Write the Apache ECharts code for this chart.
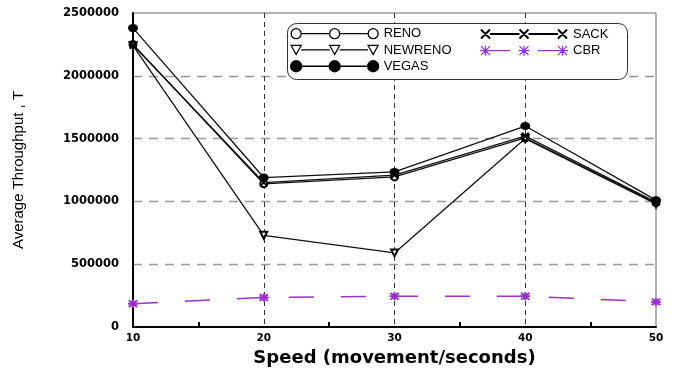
<!DOCTYPE html>
<html>
<head>
<meta charset="utf-8">
<script src="https://cdn.jsdelivr.net/npm/echarts@6/dist/echarts.min.js"></script>
<style>
html,body{margin:0;padding:0;background:#fff;}
#chart{width:675px;height:374px;}
</style>
</head>
<body>
<div id="chart"></div>
<script>
// ---- data ----
var speeds = [10, 20, 30, 40, 50];
var reno    = [2250000, 1140000, 1195000, 1505000, 990000];
var newreno = [2240000,  730000,  590000, 1500000, 980000];
var vegas   = [2380000, 1190000, 1235000, 1600000, 1010000];
var sack    = [2245000, 1150000, 1210000, 1520000, 995000];
var cbr     = [ 185000,  235000,  245000,  245000, 200000];
var seriesNames = ['RENO', 'NEWRENO', 'VEGAS', 'SACK', 'CBR'];
var xTitle = 'Speed (movement/seconds)';
var yTitle = 'Average Throughput , T';

var purple = '#9932CC';
function pairs(vals) { return speeds.map(function (s, i) { return [s, vals[i]]; }); }

var xPath = 'path://M0,0L10,10M10,0L0,10';
var starPath = 'path://M0,0L10,10M10,0L0,10M5,-1L5,11M-1,5L11,5';

// legend icon paths (88 x 12 box)
function circ(cx, r) { return 'M' + (cx - r) + ',6a' + r + ',' + r + ' 0 1,0 ' + (2 * r) + ',0a' + r + ',' + r + ' 0 1,0 ' + (-2 * r) + ',0'; }
function tri(cx) { return 'M' + (cx - 5) + ',1.5L' + (cx + 5) + ',1.5L' + cx + ',10.5Z'; }
function cross(cx) { return 'M' + (cx - 4.5) + ',1.5L' + (cx + 4.5) + ',10.5M' + (cx + 4.5) + ',1.5L' + (cx - 4.5) + ',10.5'; }
function star(cx) { return cross(cx) + 'M' + cx + ',1L' + cx + ',11M' + (cx - 5.5) + ',6L' + (cx + 5.5) + ',6'; }
var anchor = 'M0,0M88,12';
var pos = [5.5, 44, 82.5];
var iconReno = 'path://' + anchor + 'M10.5,6L39,6M49,6L77.5,6' + pos.map(function (c) { return circ(c, 5); }).join('');
var iconNew = 'path://' + anchor + 'M10.5,6L39,6M49,6L77.5,6' + pos.map(tri).join('');
var iconVeg = 'path://' + anchor + 'M10.5,6L39,6M49,6L77.5,6' + pos.map(function (c) { return circ(c, 5.5); }).join('');
var iconSack = 'path://' + anchor + 'M10,6L39.5,6M48.5,6L78,6' + pos.map(cross).join('');
var iconCbr = 'path://' + anchor + 'M11,6L30,6M58,6L77,6' + pos.map(star).join('');

var chart = echarts.init(document.getElementById('chart'), null, { renderer: 'canvas' });

var axisLabelFont = { fontFamily: 'DejaVu Sans', fontWeight: 'bold', color: '#000' };
var legendText = { fontFamily: 'Liberation Sans', fontSize: 13, color: '#000', lineHeight: 12 };

var option = {
  animation: false,
  backgroundColor: '#fff',
  grid: { left: 133, right: 19, top: 13, bottom: 47, show: true, borderColor: '#666', borderWidth: 1 },
  xAxis: {
    type: 'value', min: 10, max: 50, interval: 10,
    name: xTitle, nameLocation: 'middle', nameGap: 15,
    nameTextStyle: { fontFamily: 'DejaVu Sans', fontWeight: 'bold', fontSize: 18, color: '#000' },
    axisLine: { show: true, lineStyle: { color: '#000', width: 2 } },
    axisTick: { show: true, inside: true, length: 0 },
    minorTick: { show: true, splitNumber: 2, length: 5, lineStyle: { color: '#000', width: 2 } },
    axisLabel: Object.assign({ fontSize: 10.5, margin: 6 }, axisLabelFont),
    splitLine: { show: true, showMinLine: false, showMaxLine: false, lineStyle: { color: '#333', type: [5, 4], width: 1 } }
  },
  yAxis: {
    type: 'value', min: 0, max: 2500000, interval: 500000,
    name: yTitle, nameLocation: 'middle', nameGap: 107,
    nameTextStyle: { fontFamily: 'Liberation Sans', fontSize: 15, color: '#000' },
    axisLine: { show: true, lineStyle: { color: '#000', width: 2 } },
    axisTick: { show: false },
    axisLabel: Object.assign({ fontSize: 11.5, margin: 14, formatter: function (v) { return String(v); } }, axisLabelFont),
    splitLine: { show: true, showMinLine: false, showMaxLine: false, lineStyle: { color: '#999', type: [9, 7], width: 1.3 } }
  },
  legend: [
    {
      left: 290, top: 27, padding: 0, orient: 'vertical', itemWidth: 88, itemHeight: 12, itemGap: 3,
      selectedMode: false, textStyle: legendText,
      data: [
        { name: 'RENO', icon: iconReno, itemStyle: { color: '#fff', borderColor: '#000', borderWidth: 1.3 } },
        { name: 'NEWRENO', icon: iconNew, itemStyle: { color: '#fff', borderColor: '#000', borderWidth: 1.3 } },
        { name: 'VEGAS', icon: iconVeg, itemStyle: { color: '#000', borderColor: '#000', borderWidth: 1.3 } }
      ]
    },
    {
      left: 479, top: 27, padding: 0, orient: 'vertical', itemWidth: 88, itemHeight: 12, itemGap: 3,
      selectedMode: false, textStyle: legendText,
      data: [
        { name: 'SACK', icon: iconSack, itemStyle: { color: '#000', borderColor: '#000', borderWidth: 2 } },
        { name: 'CBR', icon: iconCbr, itemStyle: { color: purple, borderColor: purple, borderWidth: 1.3 } }
      ]
    }
  ],
  graphic: [
    { type: 'rect', left: 287, top: 23, z: 3, silent: true,
      shape: { width: 340, height: 56, r: 9 },
      style: { fill: '#fff', stroke: '#333', lineWidth: 1 } }
  ],
  series: [
    { name: 'RENO', type: 'line', data: pairs(reno), symbol: 'emptyCircle', symbolSize: 7,
      lineStyle: { color: '#111', width: 1.3 }, itemStyle: { color: '#000', borderColor: '#000', borderWidth: 1.3 } },
    { name: 'NEWRENO', type: 'line', data: pairs(newreno), symbol: 'emptyTriangle', symbolRotate: 180, symbolSize: 7,
      lineStyle: { color: '#111', width: 1.3 }, itemStyle: { color: '#000', borderColor: '#000', borderWidth: 1.3 } },
    { name: 'SACK', type: 'line', data: pairs(sack), symbol: xPath, symbolSize: 7,
      lineStyle: { color: '#111', width: 1.3 }, itemStyle: { color: '#000', borderColor: '#000', borderWidth: 1.8 } },
    { name: 'VEGAS', type: 'line', data: pairs(vegas), symbol: 'circle', symbolSize: [10, 8],
      lineStyle: { color: '#111', width: 1.3 }, itemStyle: { color: '#000', borderColor: '#000', borderWidth: 0 } },
    { name: 'CBR', type: 'line', data: pairs(cbr), symbol: starPath, symbolSize: [10, 8],
      lineStyle: { color: purple, width: 1.5, type: [25, 27] }, itemStyle: { color: purple, borderColor: purple, borderWidth: 2 } }
  ]
};
chart.setOption(option);
</script>
</body>
</html>
